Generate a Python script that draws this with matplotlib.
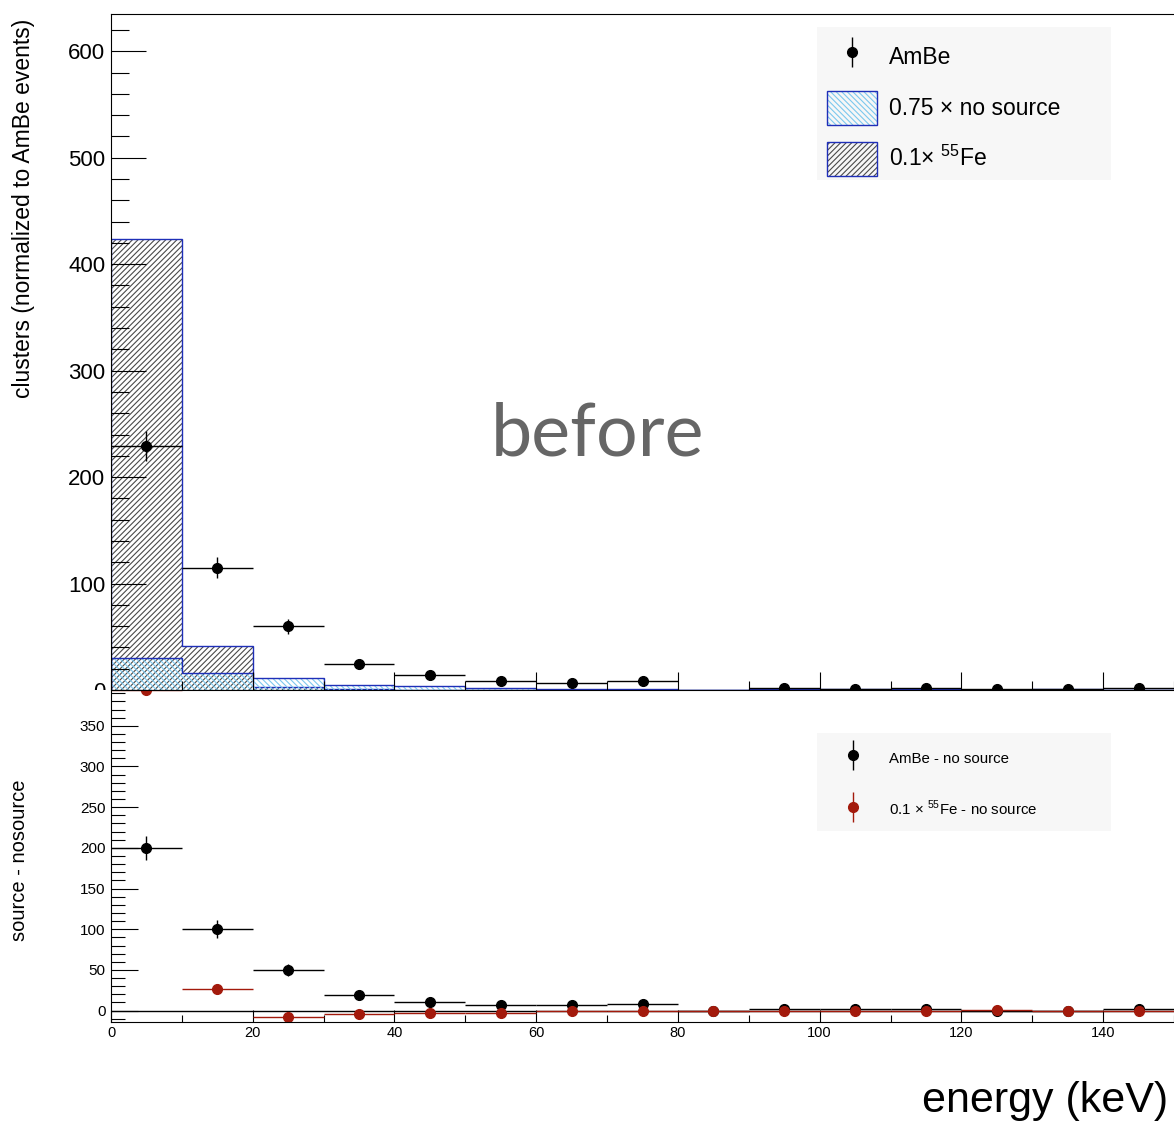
import numpy as np
import matplotlib
matplotlib.use('Agg')
import matplotlib.pyplot as plt
from matplotlib.patches import Patch, Rectangle
from matplotlib.lines import Line2D
from matplotlib.legend_handler import HandlerTuple
from matplotlib.ticker import MultipleLocator

plt.rcParams['font.family'] = ['Liberation Sans', 'DejaVu Sans']
plt.rcParams['mathtext.fontset'] = 'custom'
plt.rcParams['mathtext.rm'] = 'Liberation Sans'
plt.rcParams['hatch.linewidth'] = 0.8

# binning (keV)
edges = np.arange(0, 160, 10)
centers = edges[:-1] + 5

# top pad: clusters normalized to AmBe events
fe_scaled = [424, 41, 2.5, 1, 0, 0, 0, 0, 0, 0, 0, 0, 0, 0, 0]
nosrc_scaled = [30, 15.5, 11, 5, 3.5, 2, 1, 1.2, 0.3, 0.5, 0.5, 0.5, 0.3, 1, 0.3]
ambe = [229, 115, 60, 24, 14.5, 8, 7, 8, np.nan, 1.5, 1, 1.5, 0.5, 0.5, 1.5]
ambe_err = [14, 10, 7, 4.5, 3.5, 3, 2.5, 3, 3, 1.5, 1, 1.5, 1, 1, 1.5]

# bottom pad: source - nosource
diff_ambe = [200, 100, 50, 19, 11, 7, 7, 8, -0.5, 2, 1.5, 1.5, -0.5, -0.5, 1.5]
diff_ambe_err = [15, 11, 7, 4.5, 3.5, 3, 3, 3, 1, 1.5, 1.5, 1.5, 1, 1, 1.5]
diff_fe = [394, 27, -8, -4.5, -3, -2.5, -1, -0.5, -0.5, 0, 0, 0, 0.5, -0.5, 0]
diff_fe_err = [3, 3, 2, 1.5, 1, 1, 1, 1, 0.5, 0.5, 0.5, 0.5, 0.5, 0.5, 0.5]

blue = '#1f2fb8'
cyan = '#7cc8ee'
hatch_gray = '#4a4a4a'
red = '#a31a0c'
fe_hatch = '//////'
nos_hatch = '\\\\\\\\\\\\'

W, H = 1174, 1121
PT = 0.72  # points per pixel at dpi 100
fig = plt.figure(figsize=(W / 100, H / 100), dpi=100)

def fx(px):
    return px / W

def fy(py):
    return 1 - py / H

ax1 = fig.add_axes([fx(111), fy(690), 1 - fx(111), fy(14) - fy(690)])
ax2 = fig.add_axes([fx(111), fy(1022), 1 - fx(111), fy(690) - fy(1022)], zorder=2)

# ---- top pad ----
ax1.bar(centers, fe_scaled, width=10, facecolor='none', edgecolor=hatch_gray,
        hatch=fe_hatch, linewidth=0)
ax1.stairs(fe_scaled, edges, color=blue, linewidth=1, baseline=0)
ax1.bar(centers, nosrc_scaled, width=10, facecolor='none', edgecolor=cyan,
        hatch=nos_hatch, linewidth=0)
ax1.stairs(nosrc_scaled, edges, color=blue, linewidth=1, baseline=0)
ax1.errorbar(centers, ambe, xerr=5, yerr=ambe_err, fmt='o', color='black',
             markersize=7, elinewidth=1, capsize=0)

ax1.set_xlim(0, 150)
ax1.set_ylim(0, 635)
ax1.yaxis.set_major_locator(MultipleLocator(100))
ax1.yaxis.set_minor_locator(MultipleLocator(20))
ax1.xaxis.set_major_locator(MultipleLocator(20))
ax1.xaxis.set_minor_locator(MultipleLocator(10))
ax1.tick_params(axis='y', which='major', direction='in', length=35 * PT, width=0.8,
                labelsize=16, pad=4)
ax1.tick_params(axis='y', which='minor', direction='in', length=18 * PT, width=0.8)
ax1.tick_params(axis='x', which='major', direction='in', length=18 * PT, width=0.8,
                labelbottom=False)
ax1.tick_params(axis='x', which='minor', direction='in', length=9 * PT, width=0.8)
ax1.spines['right'].set_visible(False)
ax1.set_ylabel('clusters (normalized to AmBe events)', fontsize=16.5)
ax1.yaxis.set_label_coords(-fx(111) + fx(27), (fy(208) - fy(690)) / (fy(14) - fy(690)))

# hide lower half of the top pad "0" label like the pad boundary does
fig.patches.append(Rectangle((0, 0), fx(111), fy(690), transform=fig.transFigure,
                             facecolor='white', edgecolor='none', zorder=1))

# legend top
fig.patches.append(Rectangle((fx(817), fy(180)), fx(1111) - fx(817), fy(27) - fy(180),
                             transform=fig.transFigure, facecolor='#f7f7f7',
                             edgecolor='none', zorder=1.5))
h_ambe = (Line2D([], [], marker='|', markersize=22, color='black', linestyle='none',
                 markeredgewidth=1),
          Line2D([], [], marker='o', markersize=7, color='black', linestyle='none'))
h_nos = (Patch(facecolor='none', edgecolor=cyan, hatch=nos_hatch, linewidth=0),
         Patch(facecolor='none', edgecolor=blue, linewidth=1))
h_fe = (Patch(facecolor='none', edgecolor=hatch_gray, hatch=fe_hatch, linewidth=0),
        Patch(facecolor='none', edgecolor=blue, linewidth=1))
leg1 = fig.legend([h_ambe, h_nos, h_fe],
                  ['AmBe', '0.75 × no source', '0.1× $^{55}$Fe'],
                  handler_map={tuple: HandlerTuple(ndivide=1)},
                  loc='upper left', bbox_to_anchor=(fx(827), fy(40)),
                  frameon=False, fontsize=16.5, borderpad=0, borderaxespad=0,
                  handlelength=2.2, handleheight=1.9, labelspacing=0.74,
                  handletextpad=0.5)
leg1.set_zorder(3)

fig.text(fx(597), fy(456), 'before', fontsize=53, color='#666666', family='Lato',
         fontweight='normal', ha='center', va='baseline', zorder=3)

# ---- bottom pad ----
ax2.axhline(0, color='black', linewidth=1)
ax2.errorbar(centers, diff_ambe, xerr=5, yerr=diff_ambe_err, fmt='o', color='black',
             markersize=7, elinewidth=1, capsize=0)
ax2.errorbar(centers, diff_fe, xerr=5, yerr=diff_fe_err, fmt='o', color=red,
             markersize=7, elinewidth=1, capsize=0)
ax2.set_xlim(0, 150)
ax2.set_ylim(-14, 394)
ax2.yaxis.set_major_locator(MultipleLocator(50))
ax2.yaxis.set_minor_locator(MultipleLocator(10))
ax2.xaxis.set_major_locator(MultipleLocator(20))
ax2.xaxis.set_minor_locator(MultipleLocator(10))
ax2.tick_params(axis='y', which='major', direction='in', length=27 * PT, width=0.8,
                labelsize=11, pad=4)
ax2.tick_params(axis='y', which='minor', direction='in', length=14 * PT, width=0.8)
ax2.tick_params(axis='x', which='major', direction='in', length=12 * PT, width=0.8,
                labelsize=10.5, pad=3)
ax2.tick_params(axis='x', which='minor', direction='in', length=7 * PT, width=0.8)
ax2.spines['right'].set_visible(False)
ax2.set_ylabel('source - nosource', fontsize=14.5)
ax2.yaxis.set_label_coords(-fx(111) + fx(20), (fy(860) - fy(1022)) / (fy(690) - fy(1022)))

fig.patches.append(Rectangle((fx(817), fy(831)), fx(1111) - fx(817), fy(733) - fy(831),
                             transform=fig.transFigure, facecolor='#f7f7f7',
                             edgecolor='none', zorder=2.5))
h_d1 = (Line2D([], [], marker='|', markersize=22, color='black', linestyle='none',
               markeredgewidth=1),
        Line2D([], [], marker='o', markersize=7, color='black', linestyle='none'))
h_d2 = (Line2D([], [], marker='|', markersize=22, color=red, linestyle='none',
               markeredgewidth=1),
        Line2D([], [], marker='o', markersize=7, color=red, linestyle='none'))
leg2 = fig.legend([h_d1, h_d2], ['AmBe - no source', '0.1 × $^{55}$Fe - no source'],
                  handler_map={tuple: HandlerTuple(ndivide=1)},
                  loc='upper left', bbox_to_anchor=(fx(827), fy(747)),
                  frameon=False, fontsize=10.8, borderpad=0, borderaxespad=0,
                  handlelength=3.4, handleheight=1.9, labelspacing=1.95,
                  handletextpad=0.75)
leg2.set_zorder(3)

fig.text(fx(1168), fy(1112), 'energy (keV)', fontsize=31,
         family=['Liberation Sans Narrow', 'Liberation Sans'],
         ha='right', va='baseline')

fig.savefig('out.png', dpi=100)
